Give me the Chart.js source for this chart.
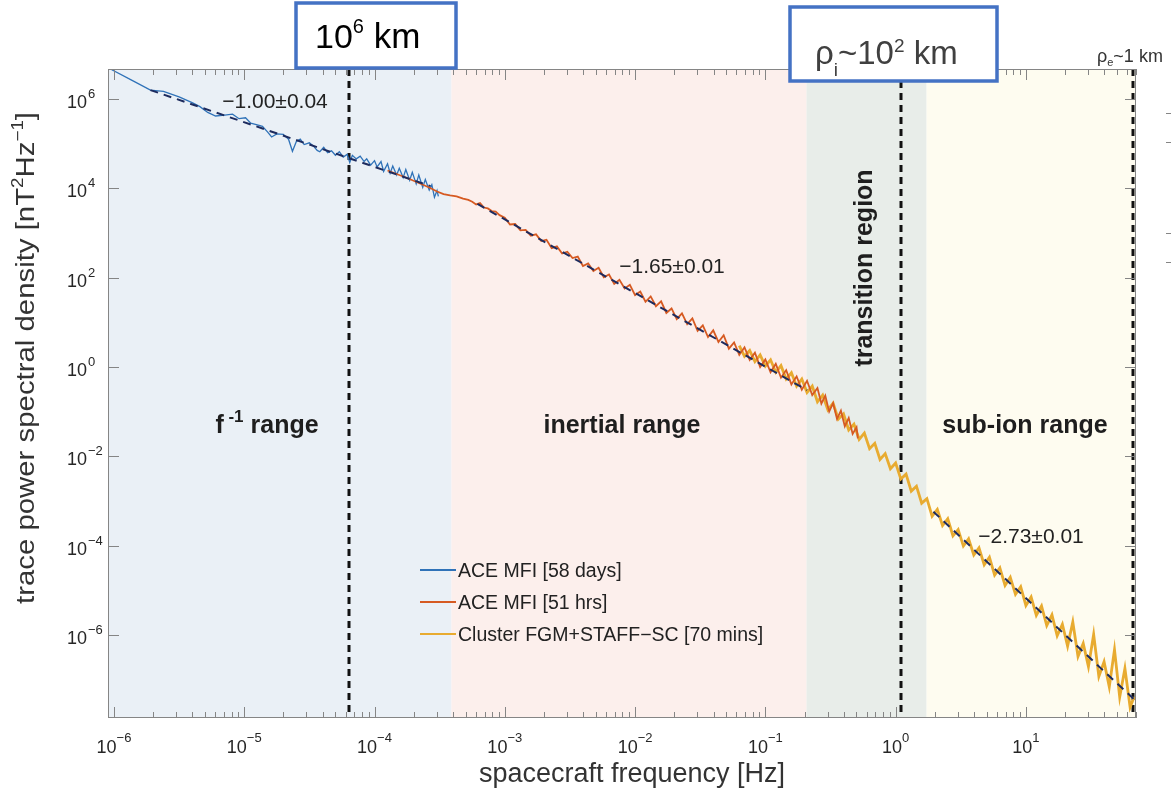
<!DOCTYPE html>
<html>
<head>
<meta charset="utf-8">
<script src="https://cdn.jsdelivr.net/npm/chart.js@4.4.1/dist/chart.umd.min.js"></script>
<style>
  html, body { margin: 0; padding: 0; background: #fff; }
  #wrap { width: 1171px; height: 791px; }
</style>
</head>
<body>
<div id="wrap"><canvas id="psd" width="1171" height="791"></canvas></div>
<script>
// Solar wind magnetic spectrum, values as log10(f [Hz]) and log10(PSD [nT^2/Hz])

const FONT = '"Liberation Sans", Arial, Helvetica, sans-serif';

// axis limits
const X_MIN = 9.0e-7, X_MAX = 70;
const Y_MIN = 1.38e-8, Y_MAX = 4.7e6;

// tick decades
const xTickExps = [-6, -5, -4, -3, -2, -1, 0, 1];
const yTickExps = [6, 4, 2, 0, -2, -4, -6];

// ACE MFI [58 days]
const blueLogF = [-6.02,-5.85,-5.72,-5.62,-5.50,-5.40,-5.34,-5.28,-5.22,-5.15,-5.09,-5.04,-4.99,-4.95,-4.90,-4.86,-4.82,-4.79,-4.75,-4.70,
  -4.66,-4.63,-4.60,-4.57,-4.54,-4.50,-4.47,-4.44,-4.42,-4.39,-4.36,-4.33,-4.30,-4.27,-4.24,-4.21,-4.19,-4.17,-4.14,-4.11,
  -4.08,-4.06,-4.03,-4.00,-3.98,-3.95,-3.93,-3.90,-3.88,-3.86,-3.83,-3.81,-3.78,-3.76,-3.73,-3.71,-3.68,-3.66,-3.63,-3.61,
  -3.58,-3.56,-3.54,-3.52,-3.51];
const blueLogP = [6.66,6.40,6.20,6.17,6.05,5.92,5.83,5.70,5.62,5.64,5.66,5.56,5.58,5.46,5.42,5.39,5.26,5.15,5.22,5.21,
  5.10,4.83,5.05,5.10,4.98,5.02,4.95,4.85,4.82,4.92,4.80,4.84,4.74,4.82,4.70,4.76,4.58,4.74,4.66,4.72,
  4.60,4.66,4.52,4.62,4.48,4.60,4.38,4.55,4.34,4.50,4.30,4.45,4.24,4.42,4.18,4.36,4.10,4.30,4.02,4.20,
  3.96,4.08,3.80,3.95,3.82];

// ACE MFI [51 hrs]
const redLogF = [-3.90,-3.82,-3.74,-3.66,-3.58,-3.52,-3.47,-3.42,-3.37,-3.32,-3.28,-3.25,-3.22,-3.19,-3.16,-3.13,-3.10,-3.07,-3.04,
  -3.00,-2.96,-2.92,-2.88,-2.84,-2.80,-2.76,-2.72,-2.68,-2.64,-2.60,-2.56,-2.52,-2.48,-2.44,-2.40,-2.36,-2.32,-2.28,-2.24,
  -2.20,-2.16,-2.12,-2.08,-2.04,-2.00,-1.96,-1.92,-1.88,-1.84,-1.80,-1.76,-1.72,-1.68,-1.64,-1.60,-1.56,-1.52,-1.48,-1.44,
  -1.40,-1.36,-1.32,-1.28,-1.24,-1.20,-1.16,-1.12,-1.08,-1.04,-1.00,-0.96,-0.92,-0.88,-0.84,-0.80,-0.76,-0.72,-0.68,-0.64,
  -0.60,-0.57,-0.54,-0.51,-0.48,-0.45,-0.42,-0.39,-0.36,-0.33,-0.30,-0.29];
const redLogP = [4.40,4.31,4.22,4.12,4.02,3.93,3.87,3.84,3.82,3.77,3.74,3.70,3.64,3.67,3.57,3.55,3.49,3.48,3.40,
  3.34,3.19,3.20,3.06,3.07,2.94,2.97,2.82,2.85,2.66,2.70,2.54,2.58,2.44,2.47,2.26,2.32,2.15,2.22,2.01,
  2.07,1.86,1.95,1.76,1.84,1.61,1.69,1.46,1.58,1.36,1.47,1.21,1.31,1.07,1.20,0.96,1.09,0.81,0.93,0.67,
  0.82,0.56,0.71,0.41,0.55,0.27,0.44,0.16,0.32,0.00,0.17,-0.12,0.07,-0.24,-0.07,-0.39,-0.21,-0.51,-0.31,-0.63,
  -0.47,-0.82,-0.64,-1.00,-0.81,-1.16,-0.98,-1.33,-1.14,-1.50,-1.35,-1.60];

// Cluster FGM+STAFF-SC [70 mins]
const yellowLogF = [-1.20,-1.16,-1.12,-1.08,-1.04,-1.00,-0.96,-0.92,-0.88,-0.84,
  -0.80,-0.76,-0.72,-0.68,-0.64,-0.60,-0.56,-0.52,-0.48,-0.44,
  -0.40,-0.36,-0.32,-0.28,-0.24,-0.20,-0.16,-0.12,-0.08,-0.04,
  0.00,0.04,0.08,0.12,0.16,0.20,0.24,0.28,0.32,0.36,
  0.40,0.44,0.48,0.52,0.56,0.60,0.64,0.68,0.72,0.76,
  0.80,0.84,0.88,0.92,0.96,1.00,1.04,1.08,1.12,1.16,
  1.20,1.24,1.28,1.32,1.36,1.40,1.44,1.48,1.52,1.56,
  1.60,1.64,1.68,1.72,1.76,1.80,1.83];
const yellowLogP = [0.48,0.24,0.37,0.12,0.27,0.02,0.16,-0.12,0.03,-0.27,
  -0.13,-0.43,-0.27,-0.57,-0.43,-0.78,-0.63,-0.96,-0.81,-1.17,
  -1.05,-1.41,-1.28,-1.62,-1.48,-1.83,-1.71,-2.07,-1.94,-2.28,
  -2.15,-2.51,-2.40,-2.78,-2.67,-3.05,-2.95,-3.34,-3.19,-3.55,
  -3.40,-3.78,-3.64,-4.01,-3.85,-4.21,-4.05,-4.43,-4.26,-4.66,
  -4.50,-4.89,-4.71,-5.09,-4.92,-5.34,-5.15,-5.56,-5.35,-5.79,
  -5.55,-6.02,-5.76,-6.25,-5.71,-6.48,-6.19,-6.71,-5.99,-6.93,
  -6.60,-7.16,-6.33,-7.39,-6.75,-7.62,-7.39];

// power-law fits (end points)
const fit1LogF = [-5.72, -3.57], fit1LogP = [6.20, 4.05];
const fit2LogF = [-3.21, -0.68], fit2LogP = [3.65, -0.52];
const fit3LogF = [0.29, 1.83],   fit3LogP = [-3.24, -7.44];
const fitLabels = ['−1.00±0.04', '−1.65±0.01', '−2.73±0.01'];

// shaded ranges and scale markers
const regionEdgesHz = [X_MIN, 3.9e-4, 0.207, 1.73, X_MAX];
const regionFills = ['#eaf0f6', '#fcefec', '#e8ede9', '#fefcf0'];
const markerHz = [6.4e-5, 1.1, 66];

const seriesLabels = ['ACE MFI [58 days]', 'ACE MFI [51 hrs]', 'Cluster FGM+STAFF−SC [70 mins]'];
const seriesColors = ['#2f72b8', '#d65a22', '#e8ab30'];

function toPoints(logF, logP) {
    return logF.map((f, i) => ({ x: Math.pow(10, f), y: Math.pow(10, logP[i]) }));
}

/** Draws a run of text pieces (for super/subscripts); returns drawn width */
function drawParts(ctx, parts, x, y, opt = {}) {
    const align = opt.align || 'left';
    const widths = parts.map(p => {
        ctx.font = `${p.bold ? 'bold ' : ''}${p.size}px ${FONT}`;
        return ctx.measureText(p.text).width;
    });
    const total = widths.reduce((a, b) => a + b, 0);
    const sx = opt.length ? opt.length / total : 1;
    ctx.save();
    ctx.translate(x, y);
    if (opt.rotate) ctx.rotate(opt.rotate);
    ctx.scale(sx, opt.sy || 1);
    ctx.fillStyle = opt.color || '#262626';
    ctx.textAlign = 'left';
    ctx.textBaseline = 'alphabetic';
    let cx = align === 'center' ? -total / 2 : align === 'right' ? -total : 0;
    parts.forEach((p, i) => {
        ctx.font = `${p.bold ? 'bold ' : ''}${p.size}px ${FONT}`;
        ctx.fillText(p.text, cx, p.dy || 0);
        cx += widths[i];
    });
    ctx.restore();
    return total * sx;
}

const supExp = e => (e < 0 ? '−' + (-e) : String(e));

const backdropPlugin = {
    id: 'backdrop',
    beforeDatasetsDraw(chart) {
        const { ctx, chartArea: a, scales: { x } } = chart;
        ctx.save();
        regionFills.forEach((c, i) => {
            const x0 = x.getPixelForValue(regionEdgesHz[i]);
            const x1 = x.getPixelForValue(regionEdgesHz[i + 1]);
            ctx.fillStyle = c;
            ctx.fillRect(x0, a.top, x1 - x0, a.bottom - a.top);
        });
        ctx.strokeStyle = '#111';
        ctx.lineWidth = 3;
        ctx.setLineDash([7, 5]);
        markerHz.forEach(f => {
            const px = Math.round(x.getPixelForValue(f));
            ctx.beginPath();
            ctx.moveTo(px, a.top);
            ctx.lineTo(px, a.bottom);
            ctx.stroke();
        });
        ctx.restore();
    }
};

const axesPlugin = {
    id: 'matlabAxes',
    afterDraw(chart) {
        const { ctx, chartArea: a, scales: { x, y } } = chart;
        ctx.save();
        // frame
        ctx.strokeStyle = '#858585';
        ctx.lineWidth = 1;
        ctx.strokeRect(a.left + 0.5, a.top + 0.5, a.right - a.left - 1, a.bottom - a.top - 1);

        // x ticks, inward on bottom and top
        ctx.beginPath();
        for (let d = -7; d <= 1; d++) {
            for (let m = 1; m <= 9; m++) {
                const v = m * Math.pow(10, d);
                if (v < X_MIN || v > X_MAX) continue;
                const px = Math.round(x.getPixelForValue(v)) + 0.5;
                const len = m === 1 ? 11 : 6;
                ctx.moveTo(px, a.bottom); ctx.lineTo(px, a.bottom - len);
                ctx.moveTo(px, a.top); ctx.lineTo(px, a.top + len);
            }
        }
        // y ticks, left and right
        yTickExps.forEach(e => {
            const py = Math.round(y.getPixelForValue(Math.pow(10, e))) + 0.5;
            ctx.moveTo(a.left, py); ctx.lineTo(a.left + 11, py);
            ctx.moveTo(a.right, py); ctx.lineTo(a.right - 11, py);
        });
        // bits of the neighbouring panel showing at the right edge
        [113, 142, 233, 262].forEach(py => {
            ctx.moveTo(1166, py + 0.5); ctx.lineTo(1171, py + 0.5);
        });
        ctx.stroke();

        // tick labels
        xTickExps.forEach(e => {
            const px = x.getPixelForValue(Math.pow(10, e));
            drawParts(ctx, [{ text: '10', size: 18 }, { text: supExp(e), size: 13, dy: -11 }], px, 753, { align: 'center' });
        });
        yTickExps.forEach(e => {
            const py = y.getPixelForValue(Math.pow(10, e));
            drawParts(ctx, [{ text: '10', size: 18 }], 87, py + 9, { align: 'right' });
            drawParts(ctx, [{ text: supExp(e), size: 13 }], 88, py - 1);
        });

        // axis titles
        drawParts(ctx, [{ text: 'spacecraft frequency [Hz]', size: 27 }], 632, 782, { align: 'center', color: '#333' });
        drawParts(ctx, [
            { text: 'trace power spectral density [nT', size: 25 },
            { text: '2', size: 16, dy: -11 },
            { text: 'Hz', size: 25 },
            { text: '−1', size: 16, dy: -11 },
            { text: ']', size: 25 }
        ], 34, 358, { align: 'center', rotate: -Math.PI / 2, length: 492, color: '#333' });

        // fit slopes
        drawParts(ctx, [{ text: fitLabels[0], size: 21 }], 275, 108, { align: 'center', color: '#222' });
        drawParts(ctx, [{ text: fitLabels[1], size: 21 }], 672, 273, { align: 'center', color: '#222' });
        drawParts(ctx, [{ text: fitLabels[2], size: 21 }], 1031, 543, { align: 'center', color: '#222' });

        // range names
        drawParts(ctx, [{ text: 'f', size: 25, bold: true }, { text: ' -1', size: 17, bold: true, dy: -11 },
            { text: ' range', size: 25, bold: true }], 267, 433, { align: 'center', color: '#1e1e1e' });
        drawParts(ctx, [{ text: 'inertial range', size: 25, bold: true }], 622, 433, { align: 'center', color: '#1e1e1e' });
        drawParts(ctx, [{ text: 'sub-ion range', size: 25, bold: true }], 1025, 433, { align: 'center', color: '#1e1e1e' });
        drawParts(ctx, [{ text: 'transition region', size: 25, bold: true }], 872, 268,
            { align: 'center', rotate: -Math.PI / 2, color: '#1e1e1e' });

        // legend (no box)
        seriesLabels.forEach((lab, i) => {
            const base = 577 + i * 32;
            ctx.strokeStyle = seriesColors[i];
            ctx.lineWidth = 2;
            ctx.setLineDash([]);
            ctx.beginPath();
            ctx.moveTo(420, base - 7); ctx.lineTo(456, base - 7);
            ctx.stroke();
            drawParts(ctx, [{ text: lab, size: 19.5 }], 458, base, { color: '#222' });
        });

        // electron scale label
        drawParts(ctx, [{ text: 'ρ', size: 18 }, { text: 'e', size: 11, dy: 4 }, { text: '~1 km', size: 18 }], 1097, 62, { color: '#333' });

        // callout boxes
        ctx.fillStyle = '#fff';
        ctx.strokeStyle = '#4472c4';
        ctx.lineWidth = 3.5;
        ctx.fillRect(296, 3, 160, 65);
        ctx.strokeRect(296, 3, 160, 65);
        drawParts(ctx, [{ text: '10', size: 34 }, { text: '6', size: 20, dy: -15 }, { text: ' km', size: 35 }], 315, 48, { color: '#000' });

        ctx.fillStyle = '#fff';
        ctx.fillRect(790, 7, 207, 74);
        ctx.strokeRect(790, 7, 207, 74);
        drawParts(ctx, [{ text: 'ρ', size: 33 }, { text: 'i', size: 19, dy: 12 }, { text: '~10', size: 33 },
            { text: '2', size: 19, dy: -12 }, { text: ' km', size: 33 }], 815, 64, { color: '#404040' });
        ctx.restore();
    }
};

const ctx = document.getElementById('psd');
new Chart(ctx, {
    type: 'line',
    data: {
        datasets: [
            { label: 'fit 1', data: toPoints(fit1LogF, fit1LogP), borderColor: '#1d2b5e', borderWidth: 2, borderDash: [8, 6], order: 0 },
            { label: 'fit 2', data: toPoints(fit2LogF, fit2LogP), borderColor: '#1d2b5e', borderWidth: 2, borderDash: [8, 6], order: 0 },
            { label: 'fit 3', data: toPoints(fit3LogF, fit3LogP), borderColor: '#1d2b5e', borderWidth: 2, borderDash: [8, 6], order: 0 },
            { label: seriesLabels[1], data: toPoints(redLogF, redLogP), borderColor: seriesColors[1], borderWidth: 1.8, order: 1 },
            { label: seriesLabels[2], data: toPoints(yellowLogF, yellowLogP), borderColor: seriesColors[2], borderWidth: 2.8, order: 2 },
            { label: seriesLabels[0], data: toPoints(blueLogF, blueLogP), borderColor: seriesColors[0], borderWidth: 1.3, order: 3 }
        ]
    },
    options: {
        responsive: false,
        animation: false,
        layout: { padding: { left: 108, top: 69, right: 35, bottom: 73 } },
        elements: { point: { radius: 0 }, line: { tension: 0, fill: false } },
        plugins: { legend: { display: false }, tooltip: { enabled: false } },
        scales: {
            x: { type: 'logarithmic', min: X_MIN, max: X_MAX, display: false },
            y: { type: 'logarithmic', min: Y_MIN, max: Y_MAX, display: false }
        }
    },
    plugins: [backdropPlugin, axesPlugin]
});
</script>
</body>
</html>
